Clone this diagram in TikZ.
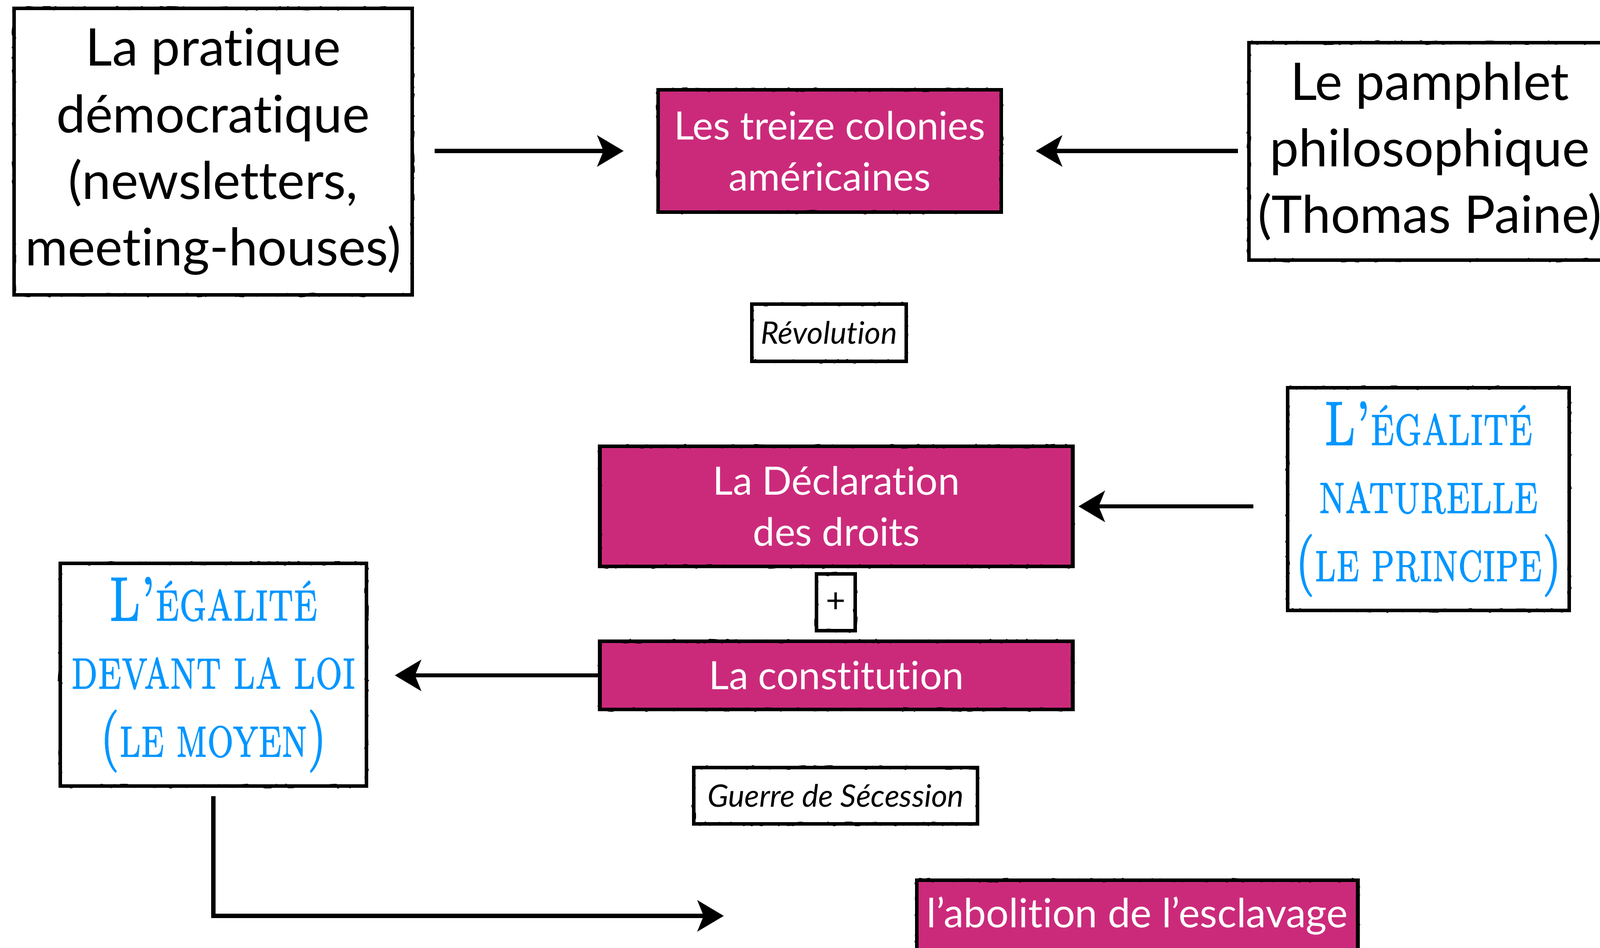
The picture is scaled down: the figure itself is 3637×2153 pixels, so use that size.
\documentclass[tikz,border=0pt]{standalone}
\usepackage{fontspec}
\newfontfamily\av[Ligatures={NoCommon,NoRare}]{Lato}
\newfontfamily\didot[FakeBold=2]{lmromancaps10-regular.otf}
\usetikzlibrary{arrows.meta,decorations.pathmorphing}
\definecolor{mag}{RGB}{203,42,123}
\definecolor{sky}{RGB}{0,150,255}
\tikzset{
  box/.style={draw=black, line width=2.4pt, rectangle, inner sep=0pt, align=center,
    postaction={draw=black, line width=0.9pt, decorate,
      decoration={random steps, segment length=2.5pt, amplitude=1.1pt}}},
  plain/.style={box, fill=white, text=black},
  pink/.style={box, fill=mag, text=white},
  arr/.style={line width=2.6pt, -{Stealth[length=17pt,width=20pt,inset=4pt]}},
  big/.style={font=\av\fontsize{33.5}{43}\selectfont},
  mid/.style={font=\av\fontsize{25.2}{33}\selectfont},
  ital/.style={font=\av\itshape\fontsize{20}{24}\selectfont},
  blue/.style={text=sky, font=\didot\fontsize{40}{44}\selectfont},
}
\newcommand\sqz[2]{\scalebox{#1}[1]{#2}}
\newcommand\fsc[1]{{\fontsize{28}{44}\selectfont #1}}
\begin{document}
\begin{tikzpicture}[x=0.01cm,y=-0.01cm]
\useasboundingbox (0,0) rectangle (3637,2153);
\node[plain, big, minimum width=9.05cm, minimum height=6.51cm] (prat) at (484.5,344.5)
  {La pratique\\démocratique\\(newsletters,\\meeting-houses)};
\node[pink, mid, minimum width=7.8cm, minimum height=2.78cm] (treize) at (1886,343)
  {Les treize colonies\\américaines};
\node[plain, big, minimum width=8.22cm, minimum height=4.94cm] (pamph) at (3250,344)
  {Le pamphlet\\philosophique\\(Thomas Paine)};
\node[plain, ital, minimum width=3.51cm, minimum height=1.30cm] (rev) at (1884.5,756)
  {Révolution};
\node[pink, mid, minimum width=10.74cm, minimum height=2.73cm] (decl) at (1901,1150.5)
  {La Déclaration\\des droits};
\node[plain, font=\av\fontsize{22}{24}\selectfont, minimum width=0.88cm, minimum height=1.29cm] (plus) at (1900,1368.5)
  {+};
\node[pink, mid, minimum width=10.74cm, minimum height=1.55cm] (const) at (1901,1534.5)
  {La constitution};
\node[plain, blue, minimum width=6.40cm, minimum height=5.06cm] (nat) at (3247,1134)
  {\sqz{0.745}{L’\fsc{ÉGALITÉ}}\\\sqz{0.745}{\fsc{NATURELLE}}\\\sqz{0.725}{(\fsc{LE PRINCIPE})}};
\node[plain, blue, minimum width=6.96cm, minimum height=5.06cm] (loi) at (485,1533)
  {\sqz{0.745}{L’\fsc{ÉGALITÉ}}\\\sqz{0.74}{\fsc{DEVANT LA LOI}}\\\sqz{0.725}{(\fsc{LE MOYEN})}};
\node[plain, ital, minimum width=6.45cm, minimum height=1.28cm] (guerre) at (1899.5,1808)
  {Guerre de Sécession};
\node[pink, font=\av\fontsize{26}{30}\selectfont, minimum width=10.02cm, minimum height=1.62cm] (abol) at (2585,2081)
  {l’abolition de l’esclavage};
\draw[arr, shorten <=0.46cm, shorten >=0.74cm] (prat.east |- treize.west) -- (treize.west);
\draw[arr, shorten <=0.21cm, shorten >=0.74cm] (pamph.west |- treize.east) -- (treize.east);
\draw[arr, shorten <=0.74cm, shorten >=0.09cm] (nat.west |- decl.east) -- (decl.east);
\draw[arr, shorten >=0.60cm] (const.west) -- (const.west -| loi.east);
\draw[arr, shorten <=0.19cm, shorten >=4.34cm] (loi.south) |- (abol.west);
\end{tikzpicture}
\end{document}
